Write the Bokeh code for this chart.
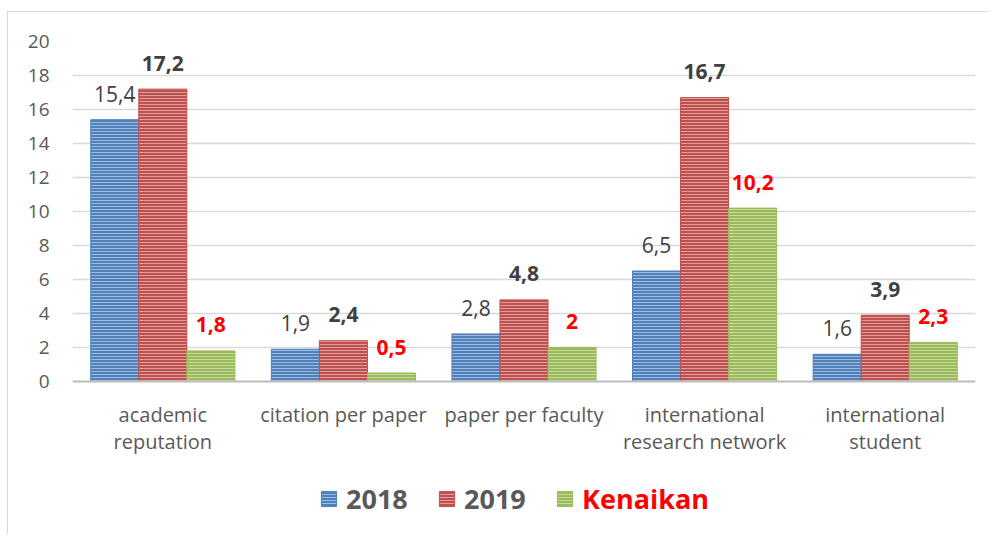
from bokeh.plotting import figure
from bokeh.models import ColumnDataSource, FactorRange, FixedTicker, Legend, LegendItem, Span
from bokeh.transform import dodge
from bokeh.core.properties import value
from bokeh.embed import file_html
from bokeh.resources import INLINE

categories = ["academic\nreputation", "citation per paper", "paper per faculty",
              "international\nresearch network", "international\nstudent"]
v2018 = [15.4, 1.9, 2.8, 6.5, 1.6]
v2019 = [17.2, 2.4, 4.8, 16.7, 3.9]
kenaikan = [1.8, 0.5, 2.0, 10.2, 2.3]
lbl2018 = ["15,4", "1,9", "2,8", "6,5", "1,6"]
lbl2019 = ["17,2", "2,4", "4,8", "16,7", "3,9"]
lblken = ["1,8", "0,5", "2", "10,2", "2,3"]
y_ticks = list(range(0, 21, 2))
zeros = [0, 0, 0, 0, 0]

FONT = "Open Sans"
src = ColumnDataSource(dict(cat=categories, a=v2018, b=v2019, c=kenaikan,
                            la=lbl2018, lb=lbl2019, lc=lblken, z=zeros))

H, TOP, FRAME_H_20 = 523, 29, 340
y_start = 20 - (H - TOP) * 20.0 / FRAME_H_20

p = figure(width=982, height=H, x_range=FactorRange(*categories), y_range=(y_start, 20),
           output_backend="svg", toolbar_location=None, x_axis_location=None,
           min_border_left=64, min_border_right=15, min_border_top=TOP, min_border_bottom=0,
           styles={"margin-left": "7px", "margin-top": "11px",
                   "border-top": "1px solid #d9d9d9", "border-left": "1px solid #d9d9d9"})
p.outline_line_color = None
p.background_fill_color = "white"
p.border_fill_color = "white"

p.yaxis.ticker = FixedTicker(ticks=y_ticks)
p.yaxis.axis_line_color = None
p.yaxis.major_tick_line_color = None
p.yaxis.minor_tick_line_color = None
p.yaxis.major_label_standoff = 17
p.yaxis.major_label_text_font = FONT
p.yaxis.major_label_text_font_size = "19px"
p.yaxis.major_label_text_color = "#595959"
p.xgrid.grid_line_color = None
p.ygrid.grid_line_color = "#D9D9D9"
p.ygrid.grid_line_width = 1.5
p.add_layout(Span(location=0, dimension="width", line_color="#BFBFBF", line_width=2))

W = 0.266
specs = [("a", -W, "#4F81BD", "la", "normal", "#404040"),
         ("b", 0.0, "#C0504D", "lb", "bold", "#404040"),
         ("c", W, "#9BBB59", "lc", "bold", "#FF0000")]
rends = []
for col, off, colr, lab, fs, tc in specs:
    r = p.vbar(x=dodge("cat", off, range=p.x_range), top=col, width=W, source=src,
               fill_color=colr, line_color=colr, line_width=1,
               hatch_pattern="horizontal_line", hatch_color="white", hatch_alpha=0.45,
               hatch_scale=3, hatch_weight=1)
    rends.append(r)
    p.text(x=dodge("cat", off, range=p.x_range), y=col, text=lab, source=src,
           text_align="center", text_baseline="alphabetic", y_offset=-26,
           text_font=value(FONT), text_font_size="21px", text_font_style=fs,
           text_color=tc)

# category labels under the zero line
p.text(x="cat", y="z", text="cat", source=src, text_align="center", text_baseline="top",
       y_offset=19, text_font=value(FONT), text_font_size="20px", text_color="#595959",
       text_line_height=1.03)

names = ["2018", "2019", "Kenaikan"]
colors = ["#595959", "#595959", "#FF0000"]
xs = [247, 365, 483]
for r, n, c, x in zip(rends, names, colors, xs):
    lg = Legend(items=[LegendItem(label=n, renderers=[r])], location=(x, 18),
                orientation="horizontal", border_line_color=None, background_fill_alpha=0,
                padding=0, margin=0, glyph_width=19, glyph_height=19, label_standoff=8,
                label_text_font=FONT, label_text_font_size="27px",
                label_text_font_style="bold", label_text_color=c)
    p.add_layout(lg, "center")

open("out.html", "w").write(file_html(p, INLINE))
